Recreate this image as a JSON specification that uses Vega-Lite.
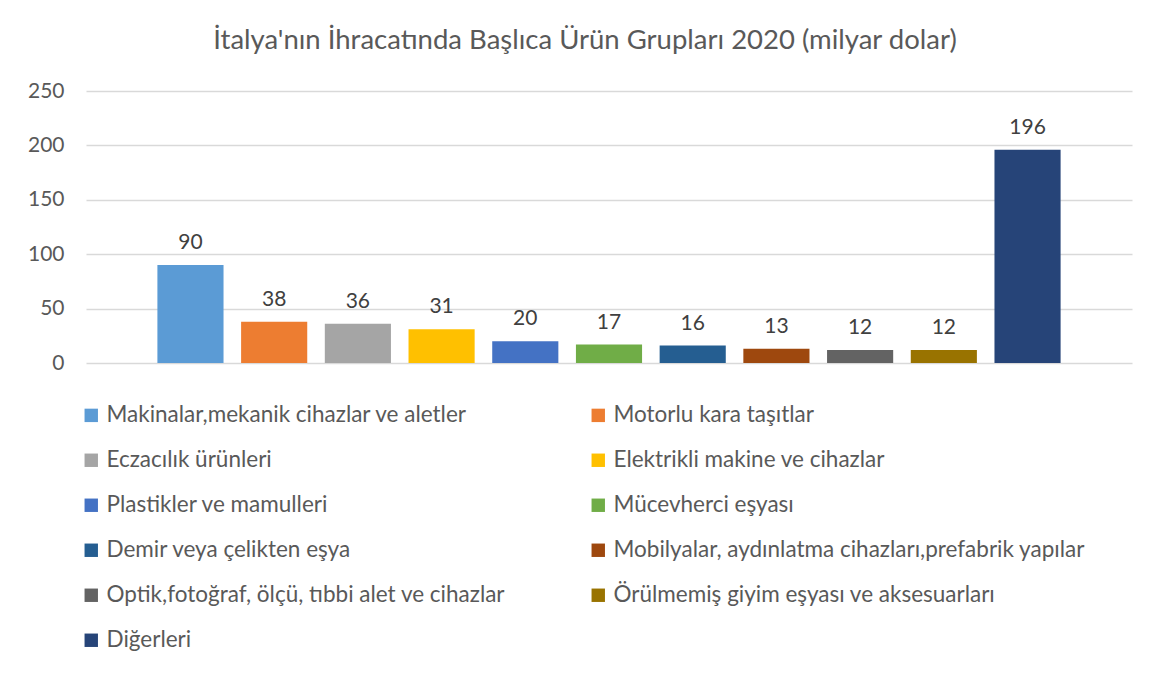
{
  "$schema": "https://vega.github.io/schema/vega-lite/v6.json",
  "width": 1046,
  "height": 272,
  "autosize": {"type": "none"},
  "padding": {"left": 86, "top": 91, "right": 24, "bottom": 312},
  "background": "white",
  "title": {
    "text": "İtalya'nın İhracatında Başlıca Ürün Grupları 2020 (milyar dolar)",
    "anchor": "middle",
    "dx": -24,
    "offset": 26,
    "font": "Lato",
    "fontSize": 27.5,
    "fontWeight": "normal",
    "color": "#595959"
  },
  "data": {
    "values": [
      {"urun": "Makinalar,mekanik cihazlar ve aletler", "deger": 90},
      {"urun": "Motorlu kara taşıtlar", "deger": 38},
      {"urun": "Eczacılık ürünleri", "deger": 36},
      {"urun": "Elektrikli makine ve cihazlar", "deger": 31},
      {"urun": "Plastikler ve mamulleri", "deger": 20},
      {"urun": "Mücevherci eşyası", "deger": 17},
      {"urun": "Demir veya çelikten eşya", "deger": 16},
      {"urun": "Mobilyalar, aydınlatma cihazları,prefabrik yapılar", "deger": 13},
      {"urun": "Optik,fotoğraf, ölçü, tıbbi alet ve cihazlar", "deger": 12},
      {"urun": "Örülmemiş giyim eşyası ve aksesuarları", "deger": 12},
      {"urun": "Diğerleri", "deger": 196}
    ]
  },
  "encoding": {
    "x": {
      "field": "urun",
      "type": "nominal",
      "sort": null,
      "axis": null,
      "scale": {"paddingInner": 0.21, "paddingOuter": 0.853}
    },
    "y": {
      "field": "deger",
      "type": "quantitative",
      "scale": {"domain": [0, 250], "nice": false},
      "axis": {
        "title": null,
        "values": [0, 50, 100, 150, 200, 250],
        "domain": false,
        "ticks": false,
        "grid": true,
        "gridColor": "#d9d9d9",
        "gridWidth": 1.3,
        "labelFont": "Lato",
        "labelFontSize": 21,
        "labelColor": "#595959",
        "labelPadding": 22
      }
    }
  },
  "layer": [
    {
      "mark": {"type": "bar"},
      "encoding": {
        "color": {
          "field": "urun",
          "type": "nominal",
          "sort": null,
          "scale": {
            "range": ["#5B9BD5", "#ED7D31", "#A5A5A5", "#FFC000", "#4472C4", "#70AD47", "#255E91", "#9E480E", "#636363", "#997300", "#264478"]
          },
          "legend": {
            "title": null,
            "orient": "none",
            "legendX": -6,
            "legendY": 313,
            "columns": 2,
            "direction": "horizontal",
            "columnPadding": 81,
            "rowPadding": 22,
            "symbolType": "square",
            "symbolSize": 180,
            "symbolStrokeWidth": 0,
            "symbolOpacity": 1,
            "labelFont": "Lato",
            "labelFontSize": 22.5,
            "labelColor": "#595959",
            "labelLimit": 700,
            "labelOffset": 4
          }
        }
      }
    },
    {
      "mark": {"type": "text", "baseline": "alphabetic", "dy": -16, "font": "Lato", "fontSize": 21, "color": "#404040"},
      "encoding": {
        "text": {"field": "deger", "type": "quantitative"}
      }
    }
  ],
  "config": {
    "view": {"stroke": null}
  }
}
